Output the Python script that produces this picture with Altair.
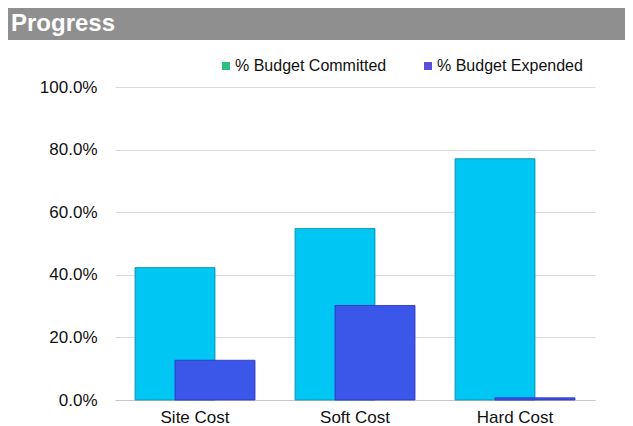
import altair as alt
import pandas as pd

title_text = ["Progress"]
categories = ["Site Cost", "Soft Cost", "Hard Cost"]
series_names = ["% Budget Committed", "% Budget Expended"]
committed = [0.423, 0.548, 0.771]
expended = [0.127, 0.302, 0.007]
y_ticks = [0.0, 0.2, 0.4, 0.6, 0.8, 1.0]

bar_colors = ["#00c6f4", "#3a57ea"]
bar_strokes = ["#0a88a8", "#2b2fb8"]
legend_colors = ["#2fbf80", "#5a4fd6"]

FONT = "Liberation Sans"

rows = []
for i, c in enumerate(categories):
    rows.append({"category": c, "series": series_names[0], "value": committed[i]})
    rows.append({"category": c, "series": series_names[1], "value": expended[i]})
df = pd.DataFrame(rows)

x_enc = alt.X(
    "category:N",
    sort=categories,
    scale=alt.Scale(paddingInner=0, paddingOuter=0),
    axis=alt.Axis(
        title=None, labelAngle=0, ticks=False, domain=True, domainColor="#c8c8c8",
        labelFontSize=17, labelColor="#111", labelPadding=9, labelFont=FONT,
    ),
)
y_enc = alt.Y(
    "value:Q",
    scale=alt.Scale(domain=[0, 1]),
    axis=alt.Axis(
        title=None, values=y_ticks, format=".1%", domain=False, ticks=False,
        labelFontSize=17, labelColor="#111", labelPadding=18, labelFont=FONT,
        gridColor="#dadada", gridWidth=1,
    ),
)

base = alt.Chart(df)

committed_bars = base.transform_filter(
    alt.datum.series == series_names[0]
).mark_bar(
    width=80, xOffset=-20, color=bar_colors[0], stroke=bar_strokes[0], strokeWidth=0.8
).encode(x=x_enc, y=y_enc)

expended_bars = base.transform_filter(
    alt.datum.series == series_names[1]
).mark_bar(
    width=80, xOffset=20, color=bar_colors[1], stroke=bar_strokes[1], strokeWidth=0.8
).encode(x=x_enc, y=y_enc)

legend_layer = base.mark_point(opacity=0, filled=True).encode(
    x=x_enc,
    y=y_enc,
    color=alt.Color(
        "series:N",
        scale=alt.Scale(domain=series_names, range=legend_colors),
        legend=alt.Legend(
            title=None, orient="none", legendX=103, legendY=-29, direction="horizontal",
            symbolType="square", symbolSize=64, symbolOpacity=1, symbolStrokeWidth=0,
            labelFontSize=16, labelFont=FONT, labelColor="#111", labelOffset=1,
            columnPadding=33,
        ),
    ),
)

header_df = pd.DataFrame({"t": title_text})
header_rect = alt.Chart(header_df).mark_rect(color="#8f8f8f").encode(
    x=alt.value(-107), x2=alt.value(510), y=alt.value(-79), y2=alt.value(-47)
)
header_text = alt.Chart(header_df).mark_text(
    align="left", baseline="alphabetic", fontSize=24, fontWeight="bold",
    color="white", font=FONT,
).encode(x=alt.value(-104), y=alt.value(-56), text="t:N")

chart = alt.layer(
    header_rect, header_text, committed_bars, expended_bars, legend_layer
).properties(
    width=480,
    height=313,
    autosize=alt.AutoSizeParams(type="none"),
    padding={"left": 107, "top": 79, "right": 30, "bottom": 30},
).configure_view(stroke=None)

chart.save("out.html", embed_options={"renderer": "svg", "actions": False})
